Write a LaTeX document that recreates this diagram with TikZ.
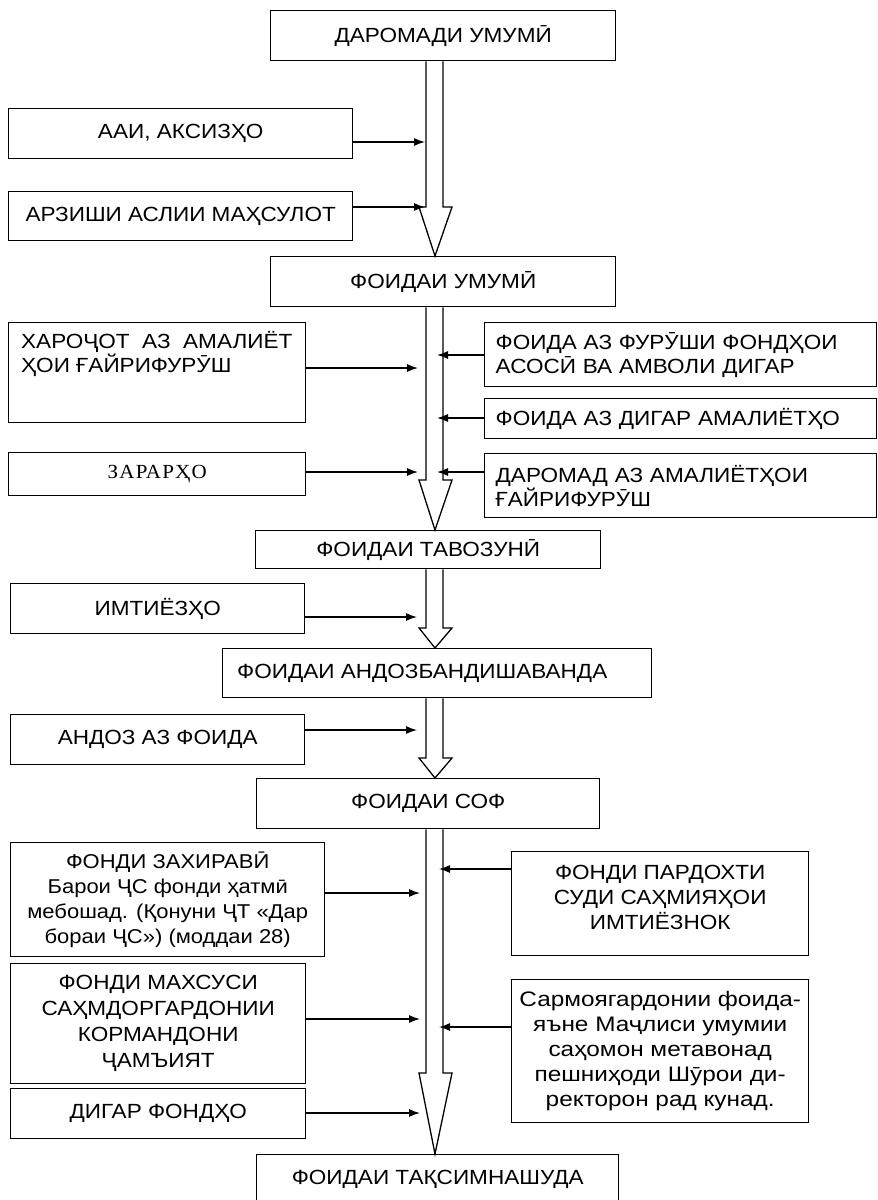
\documentclass[tikz,border=0pt]{standalone}
\usepackage{fontspec}
\setmainfont{Liberation Sans}[FakeStretch=1.1]
\newfontfamily\widefont{Liberation Sans}[FakeStretch=1.16]
\newfontfamily\seriffont{Liberation Serif}[FakeStretch=1.05,LetterSpace=6.0]
\usetikzlibrary{arrows.meta}
\begin{document}
\begin{tikzpicture}[x=1pt,y=-1pt,
  box/.style={draw, line width=1.4pt, inner sep=0pt, anchor=north west,
    font=\fontsize{20.5}{24}\selectfont, align=center},
  arr/.style={line width=1.3pt, -{Latex[length=11pt,width=8pt]}},
  blk/.style={line width=1.3pt, line join=miter}]
\useasboundingbox (0,0) rectangle (878,1200);
\clip (0,0) rectangle (878,1200);
% shaft x positions
\coordinate (xl) at (426,0);
\coordinate (xr) at (443,0);
\coordinate (xt) at (435,0);
% boxes
\node[box, minimum width=345pt, minimum height=50pt] (A) at (270,10) {ДАРОМАДИ УМУМӢ};
\node[box, minimum width=344pt, minimum height=50pt] (L1) at (8,108) {ААИ, АКСИЗҲО};
\node[box, minimum width=344pt, minimum height=49pt] (L2) at (8,191) {АРЗИШИ АСЛИИ МАҲСУЛОТ};
\node[box, minimum width=345pt, minimum height=50pt] (B) at (270,256) {ФОИДАИ УМУМӢ};
\node[box, minimum width=297pt, align=left] (L3) at (8,322)
  {\parbox[c][100pt][t]{272pt}{\rule{0pt}{26pt}ХАРОҶОТ\ \ АЗ\ \ АМАЛИЁТ\\ҲОИ ҒАЙРИФУРӮШ}};
\node[box, minimum width=392pt, minimum height=64pt, text width=370pt, align=left] (R1) at (484,322)
  {ФОИДА АЗ ФУРӮШИ ФОНДҲОИ\\АСОСӢ ВА АМВОЛИ ДИГАР};
\node[box, minimum width=392pt, minimum height=40pt, text width=370pt, align=left] (R2) at (484,398)
  {ФОИДА АЗ ДИГАР АМАЛИЁТҲО};
\node[box, minimum width=297pt, minimum height=43pt, font=\seriffont\fontsize{20}{24}\selectfont] (L4) at (8,452) {ЗАРАРҲО};
\node[box, minimum width=392pt, minimum height=64pt, text width=370pt, align=left] (R3) at (484,453)
  {ДАРОМАД АЗ АМАЛИЁТҲОИ\\ҒАЙРИФУРӮШ};
\node[box, minimum width=345pt, minimum height=38pt] (C) at (255,530) {ФОИДАИ ТАВОЗУНӢ};
\node[box, minimum width=294pt, minimum height=50pt] (L5) at (10,583) {ИМТИЁЗҲО};
\node[box, minimum width=429pt, minimum height=49pt] (D) at (222,648) {ФОИДАИ АНДОЗБАНДИШАВАНДА\hspace*{30pt}};
\node[box, minimum width=294pt, minimum height=50pt] (L6) at (10,714) {АНДОЗ АЗ ФОИДА};
\node[box, minimum width=343pt, minimum height=50pt] (E) at (256,778) {ФОИДАИ СОФ};
\node[box, minimum width=314pt, minimum height=114pt, font=\fontsize{20}{25}\selectfont] (L7) at (10,842)
  {ФОНДИ ЗАХИРАВӢ\\Барои ҶС фонди ҳатмӣ\\мебошад. (Қонуни ҶТ «Дар\\бораи ҶС») (моддаи 28)};
\node[box, minimum width=297pt, minimum height=104pt, font=\fontsize{20.5}{25}\selectfont] (R4) at (511,851)
  {ФОНДИ ПАРДОХТИ\\СУДИ САҲМИЯҲОИ\\ИМТИЁЗНОК\\[-13pt]};
\node[box, minimum width=295pt, minimum height=120pt, font=\fontsize{20.5}{26}\selectfont] (L8) at (10,963)
  {ФОНДИ МАХСУСИ\\САҲМДОРГАРДОНИИ\\КОРМАНДОНИ\\ҶАМЪИЯТ};
\node[box, minimum width=297pt, minimum height=143pt, font=\widefont\fontsize{21}{25}\selectfont] (R5) at (511,979)
  {Сармоягардонии фоида-\\яъне Маҷлиси умумии\\саҳомон метавонад\\пешниҳоди Шӯрои ди-\\ректорон рад кунад.};
\node[box, minimum width=295pt, minimum height=50pt] (L9) at (10,1088) {ДИГАР ФОНДҲО};
\node[box, minimum width=362pt, minimum height=70pt, text depth=24pt] (F) at (256,1154) {ФОИДАИ ТАҚСИМНАШУДА};
% block arrows
\newcommand\blk[3]{%
  \draw[blk] (#1.south -| xl) -- (xl |- 0,#3) -- (419,#3) -- (#2.north -| xt)
     -- (452,#3) -- (443,#3) -- (#1.south -| xr);}
\blk{A}{B}{207}
\blk{B}{C}{480}
\blk{C}{D}{628}
\blk{D}{E}{758}
\blk{E}{F}{1073}
% side arrows
\coordinate (t1) at (425,142);
\coordinate (t2) at (425,207);
\coordinate (t3) at (418,368);
\coordinate (t4) at (437,355);
\coordinate (t5) at (437,418);
\coordinate (t6) at (418,472);
\coordinate (t7) at (437,472);
\coordinate (t8) at (417,617);
\coordinate (t9) at (417,730);
\coordinate (t10) at (420,893);
\coordinate (t11) at (439,869);
\coordinate (t12) at (420,1019);
\coordinate (t13) at (439,1027);
\coordinate (t14) at (420,1113);
\draw[arr] (L1.east |- t1) -- (t1);
\draw[arr] (L2.east |- t2) -- (t2);
\draw[arr] (L3.east |- t3) -- (t3);
\draw[arr] (R1.west |- t4) -- (t4);
\draw[arr] (R2.west |- t5) -- (t5);
\draw[arr] (L4.east |- t6) -- (t6);
\draw[arr] (R3.west |- t7) -- (t7);
\draw[arr] (L5.east |- t8) -- (t8);
\draw[arr] (L6.east |- t9) -- (t9);
\draw[arr] (L7.east |- t10) -- (t10);
\draw[arr] (R4.west |- t11) -- (t11);
\draw[arr] (L8.east |- t12) -- (t12);
\draw[arr] (R5.west |- t13) -- (t13);
\draw[arr] (L9.east |- t14) -- (t14);
\end{tikzpicture}
\end{document}
